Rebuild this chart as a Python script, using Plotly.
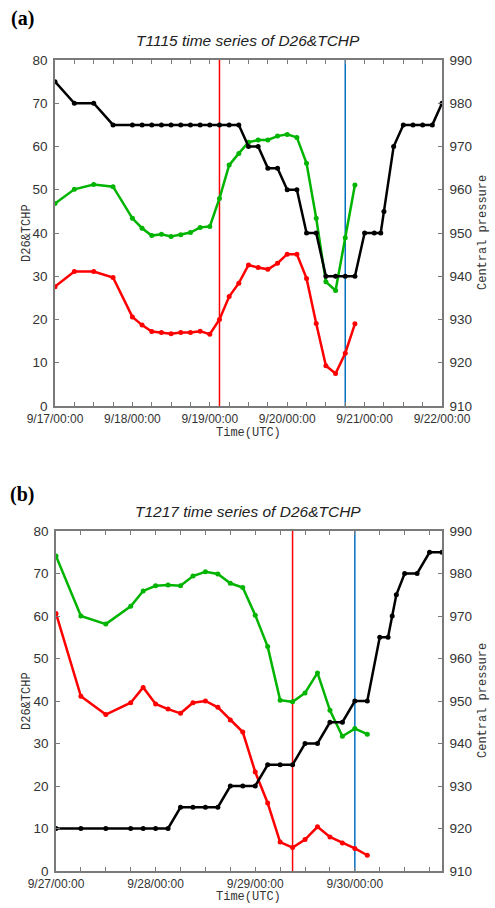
import pandas as pd
import plotly.graph_objects as go

# ---------------- data ----------------
# (a) T1115, hours after 2011-09-17 00:00 UTC
a_start = "2011-09-17 00:00"
a_hours_ocean = [0, 6, 12, 18, 24, 27, 30, 33, 36, 39, 42, 45, 48, 51, 54, 57, 60,
                 63, 66, 69, 72, 75, 78, 81, 84, 87, 90, 93]
a_tchp = [46.8, 50.1, 51.2, 50.7, 43.4, 41.1, 39.4, 39.7, 39.2, 39.6, 40.1, 41.3, 41.5,
          48.0, 55.7, 58.4, 61.0, 61.5, 61.5, 62.4, 62.8, 62.1, 56.1, 43.4, 28.7, 26.7,
          38.9, 51.1]
a_d26 = [27.6, 31.1, 31.1, 29.7, 20.6, 18.7, 17.2, 17.0, 16.7, 17.0, 17.0, 17.3, 16.6,
         20.0, 25.3, 28.4, 32.6, 32.0, 31.6, 33.0, 35.1, 35.1, 29.5, 19.1, 9.3, 7.5,
         12.2, 19.0]
a_hours_p = [0, 6, 12, 18, 24, 27, 30, 33, 36, 39, 42, 45, 48, 51, 54, 57, 60, 63, 66,
             69, 72, 75, 78, 81, 84, 87, 90, 93, 96, 99, 101, 102, 105, 108, 111, 114,
             117, 120]
a_pressure = [985, 980, 980, 975, 975, 975, 975, 975, 975, 975, 975, 975, 975, 975, 975,
              975, 970, 970, 965, 965, 960, 960, 950, 950, 940, 940, 940, 940, 950, 950,
              950, 955, 970, 975, 975, 975, 975, 980]
a_marks = {"red": 51, "blue": 90}
a_end_hours = 120
a_day_labels = ["9/17/00:00", "9/18/00:00", "9/19/00:00", "9/20/00:00",
                "9/21/00:00", "9/22/00:00"]

# (b) T1217, hours after 2012-09-27 00:00 UTC
b_start = "2012-09-27 00:00"
b_hours_ocean = [0, 6, 12, 18, 21, 24, 27, 30, 33, 36, 39, 42, 45, 48, 51, 54, 57, 60,
                 63, 66, 69, 72, 75]
b_tchp = [74.1, 60.0, 58.1, 62.3, 65.9, 67.1, 67.3, 67.1, 69.4, 70.4, 69.9, 67.7, 66.7,
          60.2, 52.8, 40.2, 39.8, 41.9, 46.6, 37.8, 31.7, 33.5, 32.2]
b_d26 = [60.6, 41.1, 36.8, 39.6, 43.2, 39.3, 38.1, 37.1, 39.6, 40.0, 38.5, 35.5, 32.7,
         23.3, 16.0, 6.8, 5.5, 7.4, 10.4, 8.0, 6.6, 5.3, 3.7]
b_hours_p = [0, 6, 12, 18, 21, 24, 27, 30, 33, 36, 39, 42, 45, 48, 51, 54, 57, 60, 63,
             66, 69, 72, 75, 78, 80, 81, 82, 84, 87, 90, 93]
b_pressure = [920, 920, 920, 920, 920, 920, 920, 925, 925, 925, 925, 930, 930, 930, 935,
              935, 935, 940, 940, 945, 945, 950, 950, 965, 965, 970, 975, 980, 980, 985,
              985]
b_marks = {"red": 57, "blue": 72}
b_end_hours = 93
b_day_labels = ["9/27/00:00", "9/28/00:00", "9/29/00:00", "9/30/00:00"]

d_range = [0, 80]
p_range = [910, 990]

# ---------------- styling ----------------
W, H = 495, 908
GREEN = "#00b400"
RED = "#ff0000"
BLACK = "#000000"
BLUE = "#0070c0"
AXIS = "#7a7a7a"
TXT = "#333333"
MONO = "Liberation Mono, DejaVu Sans Mono, monospace"
SANS = "Liberation Sans, Arial, sans-serif"


def px(x):
    return x / W


def py(y):
    return 1 - y / H


def times(start, hours):
    return pd.Timestamp(start) + pd.to_timedelta(hours, unit="h")


fig = go.Figure()


def add_panel(start, h_ocean, tchp, d26, h_p, pres, xa, ya, ya2):
    t_o = times(start, h_ocean)
    t_p = times(start, h_p)
    for t, vals, color, yax in [(t_o, d26, RED, ya), (t_o, tchp, GREEN, ya),
                                (t_p, pres, BLACK, ya2)]:
        fig.add_trace(go.Scatter(x=t, y=vals, xaxis=xa, yaxis=yax,
                                 mode="lines+markers", showlegend=False,
                                 hoverinfo="skip",
                                 line=dict(width=2.5, color=color),
                                 marker=dict(size=5, color=color)))


add_panel(a_start, a_hours_ocean, a_tchp, a_d26, a_hours_p, a_pressure, "x", "y", "y2")
add_panel(b_start, b_hours_ocean, b_tchp, b_d26, b_hours_p, b_pressure, "x2", "y3", "y4")


def x_axis(start, end_h, labels, domain, anchor):
    vals = list(times(start, list(range(0, end_h + 1, 6))))
    text = []
    for i in range(len(vals)):
        text.append(labels[i // 4] if i % 4 == 0 else "")
    return dict(domain=domain, anchor=anchor, type="date", automargin=False,
                range=[times(start, [0])[0], times(start, [end_h])[0]],
                tickmode="array", tickvals=vals, ticktext=text,
                ticks="inside", ticklen=4, tickwidth=1, tickcolor=AXIS,
                showline=True, linecolor=AXIS, linewidth=1.5, mirror="ticks",
                showgrid=False, zeroline=False, ticklabelstandoff=1,
                tickfont=dict(family=SANS, size=12, color=TXT))


def y_axis(rng, domain, anchor, side="left", overlaying=None):
    d = dict(domain=domain, anchor=anchor, range=rng, dtick=10, tick0=rng[0],
             automargin=False,
             ticks="inside", ticklen=4, tickwidth=1, tickcolor=AXIS,
             showline=True, linecolor=AXIS, linewidth=1.5, side=side,
             showgrid=False, zeroline=False, ticklabelstandoff=3,
             tickfont=dict(family=SANS, size=13.5, color=TXT))
    if overlaying:
        d["overlaying"] = overlaying
    return d


top_dom = [py(406), py(60)]
bot_dom = [py(871), py(531)]

fig.update_layout(
    template="none",
    width=W, height=H,
    margin=dict(l=0, r=0, t=0, b=0, autoexpand=False),
    paper_bgcolor="white", plot_bgcolor="white",
    xaxis=x_axis(a_start, a_end_hours, a_day_labels, [px(55), px(442)], "y"),
    yaxis=y_axis(d_range, top_dom, "x"),
    yaxis2=y_axis(p_range, top_dom, "x", side="right", overlaying="y"),
    xaxis2=x_axis(b_start, b_end_hours, b_day_labels, [px(56), px(442)], "y3"),
    yaxis3=y_axis(d_range, bot_dom, "x2"),
    yaxis4=y_axis(p_range, bot_dom, "x2", side="right", overlaying="y3"),
)

# vertical reference lines
shapes = []
for start, marks, xref, yref in [(a_start, a_marks, "x", "y domain"),
                                 (b_start, b_marks, "x2", "y3 domain")]:
    for color, h in [(RED, marks["red"]), (BLUE, marks["blue"])]:
        t = times(start, [h])[0]
        shapes.append(dict(type="line", xref=xref, yref=yref, x0=t, x1=t, y0=0, y1=1,
                           line=dict(color=color, width=1.5), layer="below"))
fig.update_layout(shapes=shapes)

# titles and labels
ann = []


def text(x, y, s, size, family, color=TXT, angle=0):
    ann.append(dict(x=px(x), y=py(y), xref="paper", yref="paper", text=s,
                    showarrow=False, xanchor="center", yanchor="middle",
                    textangle=angle, font=dict(family=family, size=size, color=color)))


for cy, ty, tag, name, plot_mid, time_y in [(19, 40, "(a)", "T1115", 233, 433),
                                            (494, 511, "(b)", "T1217", 701, 897)]:
    text(22, cy, "<b>" + tag + "</b>", 20, "Liberation Serif, Times New Roman, serif", "#000")
    text(248, ty, "<i>" + name + " time series of D26&amp;TCHP</i>", 15.5, SANS, "#222")
    text(27, plot_mid, "D26&amp;TCHP", 12, MONO, TXT, -90)
    text(483, plot_mid, "Central pressure", 12, MONO, TXT, -90)
    text(248, time_y, "Time(UTC)", 12, MONO, TXT)

fig.update_layout(annotations=ann)

fig.write_html("out.html")
